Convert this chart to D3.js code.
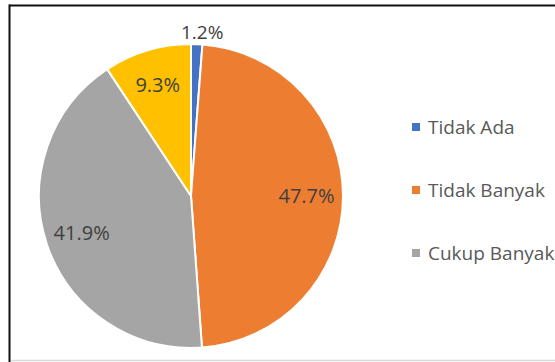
<!DOCTYPE html>
<meta charset="utf-8">
<style>
body { margin: 0; background: #fff; }
text { font-family: "Open Sans", sans-serif; }
</style>
<svg width="555" height="362"></svg>
<script src="https://cdn.jsdelivr.net/npm/d3@7"></script>
<script>
var categories = ["Tidak Ada", "Tidak Banyak", "Cukup Banyak", "Banyak"];
var values = [1.2, 47.7, 41.9, 9.3];
var colors = ["#4472C4", "#ED7D31", "#A5A5A5", "#FFC000"];
var legendShown = 3; // the last entry falls outside the chart frame

var svg = d3.select("svg");

// frame (only top / left edges are dark in the picture)
svg.append("line").attr("x1", 9).attr("x2", 555).attr("y1", 5.5).attr("y2", 5.5)
  .attr("stroke", "#111").attr("stroke-width", 2);
svg.append("line").attr("x1", 9.5).attr("x2", 9.5).attr("y1", 4.5).attr("y2", 362)
  .attr("stroke", "#111").attr("stroke-width", 2);
svg.append("line").attr("x1", 11).attr("x2", 555).attr("y1", 360.5).attr("y2", 360.5)
  .attr("stroke", "#d9d9d9").attr("stroke-width", 1.5);

var cx = 191, cy = 196, r = 152;

var pie = d3.pie().sort(null).value(function(d) { return d; });
var arcs = pie(values);

var arc = d3.arc().innerRadius(0).outerRadius(r);
var labelArc = d3.arc().innerRadius(r * 0.76).outerRadius(r * 0.76);
var outerArc = d3.arc().innerRadius(r + 12).outerRadius(r + 12);

var g = svg.append("g").attr("transform", "translate(" + cx + "," + cy + ")");

g.selectAll("path")
  .data(arcs)
  .enter().append("path")
    .attr("d", arc)
    .attr("fill", function(d, i) { return colors[i]; })
    .attr("stroke", "#fff")
    .attr("stroke-width", 2);

g.selectAll("text.lbl")
  .data(arcs)
  .enter().append("text")
    .attr("class", "lbl")
    .attr("transform", function(d) {
      var small = d.value < 3;
      var p = small ? outerArc.centroid(d) : labelArc.centroid(d);
      if (small) p[0] += 5;
      return "translate(" + p + ")";
    })
    .attr("text-anchor", "middle")
    .attr("dy", "0.35em")
    .attr("font-size", function(d) { return d.value < 3 ? 19 : 20; })
    .attr("fill", "#404040")
    .text(function(d) { return d3.format(".1f")(d.value) + "%"; });

var legend = svg.append("g").attr("transform", "translate(412,127)");
var items = legend.selectAll("g")
  .data(categories.slice(0, legendShown))
  .enter().append("g")
    .attr("transform", function(d, i) { return "translate(0," + (i * 63) + ")"; });

items.append("rect")
  .attr("x", 0).attr("y", -4)
  .attr("width", 8).attr("height", 8)
  .attr("fill", function(d, i) { return colors[i]; });

items.append("text")
  .attr("x", 16)
  .attr("dy", "0.35em")
  .attr("font-size", 19)
  .attr("fill", "#595959")
  .text(function(d) { return d; });
</script>
